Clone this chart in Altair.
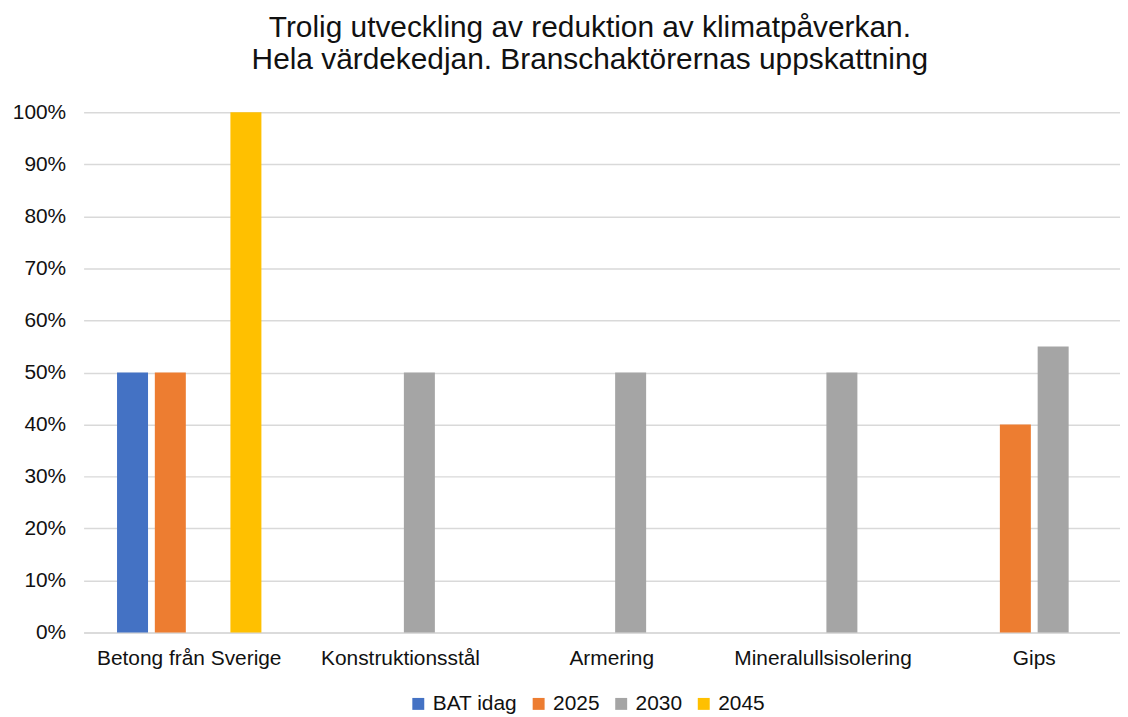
import altair as alt
import pandas as pd

categories = ["Betong från Sverige", "Konstruktionsstål", "Armering", "Mineralullsisolering", "Gips"]
series = ["BAT idag", "2025", "2030", "2045"]
bat_idag = [0.50, 0.0, 0.0, 0.0, 0.0]
y2025 = [0.50, 0.0, 0.0, 0.0, 0.40]
y2030 = [0.0, 0.50, 0.50, 0.50, 0.55]
y2045 = [1.00, 0.0, 0.0, 0.0, 0.0]
colors = ["#4472C4", "#ED7D31", "#A5A5A5", "#FFC000"]

rows = []
for s, vals in zip(series, [bat_idag, y2025, y2030, y2045]):
    for c, v in zip(categories, vals):
        if v > 0:
            rows.append({"Kategori": c, "Serie": s, "Värde": v})
df = pd.DataFrame(rows)

font = "Liberation Sans"

chart = alt.Chart(df).mark_bar().encode(
    x=alt.X("Kategori:N", sort=categories,
            scale=alt.Scale(domain=categories, paddingInner=0, paddingOuter=0,
                            range=[-2, 1060]),
            axis=alt.Axis(title=None, labelAngle=0, ticks=False, labelPadding=15,
                          labelLimit=0,
                          labelFontSize=21, labelFont=font, labelColor="#111",
                          domainColor="#d9d9d9", domainWidth=1.5)),
    xOffset=alt.XOffset("Serie:N", sort=series,
                        scale=alt.Scale(domain=series, paddingInner=0.18, paddingOuter=0.885)),
    y=alt.Y("Värde:Q",
            scale=alt.Scale(domain=[0, 1]),
            axis=alt.Axis(title=None, format=".0%", values=[i / 10 for i in range(11)],
                          ticks=False, domain=False, labelPadding=20,
                          labelFontSize=21, labelFont=font, labelColor="#111",
                          gridColor="#d9d9d9", gridWidth=1.5)),
    color=alt.Color("Serie:N", sort=series,
                    scale=alt.Scale(domain=series, range=colors),
                    legend=alt.Legend(title=None, orient="none", direction="horizontal",
                                      legendX=324, legendY=584, columns=4, padding=0,
                                      symbolType="square", symbolSize=144,
                                      symbolStrokeWidth=0,
                                      labelFontSize=21, labelFont=font, labelColor="#111",
                                      columnPadding=11, labelOffset=4)),
).properties(
    width=1040,
    height=523,
    title=alt.TitleParams(
        text=["Trolig utveckling av reduktion av klimatpåverkan.",
              "Hela värdekedjan. Branschaktörernas uppskattning"],
        fontSize=30, font=font, fontWeight="normal", color="#111",
        anchor="middle", offset=27, lineHeight=32, dx=-13),
    autosize=alt.AutoSizeParams(type="none"),
    padding={"left": 78, "top": 103, "right": 0, "bottom": 80},
).configure_view(stroke=None)

chart.save("out.html", embed_options={"renderer": "svg", "actions": False})
